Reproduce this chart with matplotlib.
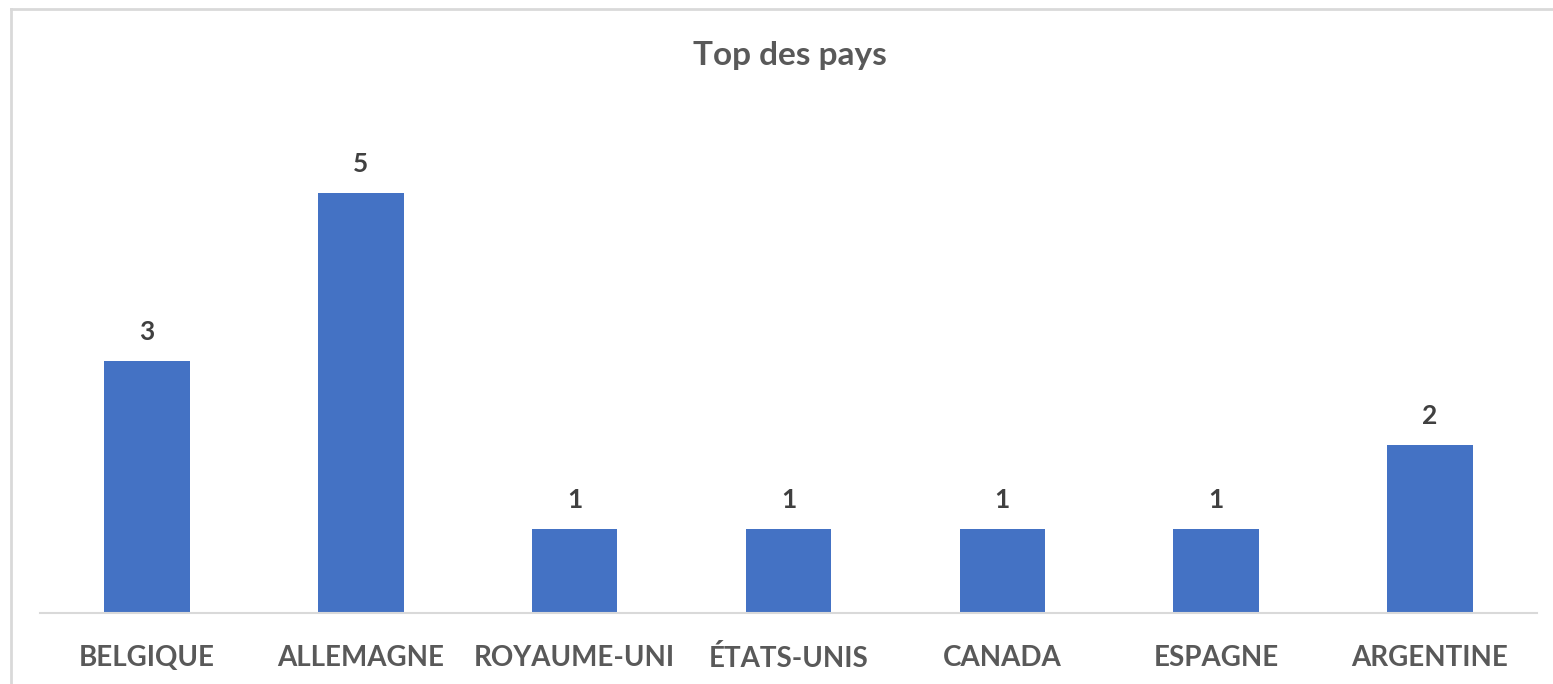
import matplotlib.pyplot as plt
from matplotlib.lines import Line2D

pays = ['BELGIQUE', 'ALLEMAGNE', 'ROYAUME-UNI', 'ÉTATS-UNIS', 'CANADA', 'ESPAGNE', 'ARGENTINE']
valeurs = [3, 5, 1, 1, 1, 1, 2]

W, H = 1553, 684
plt.rcParams['font.family'] = ['Lato', 'DejaVu Sans']
fig = plt.figure(figsize=(W / 100, H / 100), dpi=100)

# axes placed in pixel terms
x0, x1 = 40, 1537
y_base, y_top = 613, 109
ax = fig.add_axes([x0 / W, (H - y_base) / H, (x1 - x0) / W, (y_base - y_top) / H])

x = range(len(pays))
bars = ax.bar(x, valeurs, width=0.4, color='#4472C4')
ax.set_xlim(-0.5, len(pays) - 0.5)
ax.set_ylim(0, 6)

for b, v in zip(bars, valeurs):
    ax.text(b.get_x() + b.get_width() / 2, v + 0.2, str(v), ha='center', va='bottom',
            fontsize=19, fontweight='bold', color='#404040')

ax.set_xticks(list(x))
ax.set_xticklabels(pays, fontsize=20, fontweight='bold', color='#595959')
ax.tick_params(axis='x', length=0, pad=23)
ax.set_yticks([])
for s in ['top', 'right', 'left']:
    ax.spines[s].set_visible(False)
ax.spines['bottom'].set_color('#D9D9D9')
ax.spines['bottom'].set_linewidth(1.5)

fig.text(790 / W, (H - 55) / H, 'Top des pays', ha='center', va='center',
         fontsize=24, fontweight='bold', color='#595959')

# outer chart border (left and top)
fig.add_artist(Line2D([11 / W, 11 / W], [0, (H - 9) / H], color='#D9D9D9', lw=2))
fig.add_artist(Line2D([11 / W, 1], [(H - 9) / H, (H - 9) / H], color='#D9D9D9', lw=2))

fig.savefig('out.png', dpi=100)
